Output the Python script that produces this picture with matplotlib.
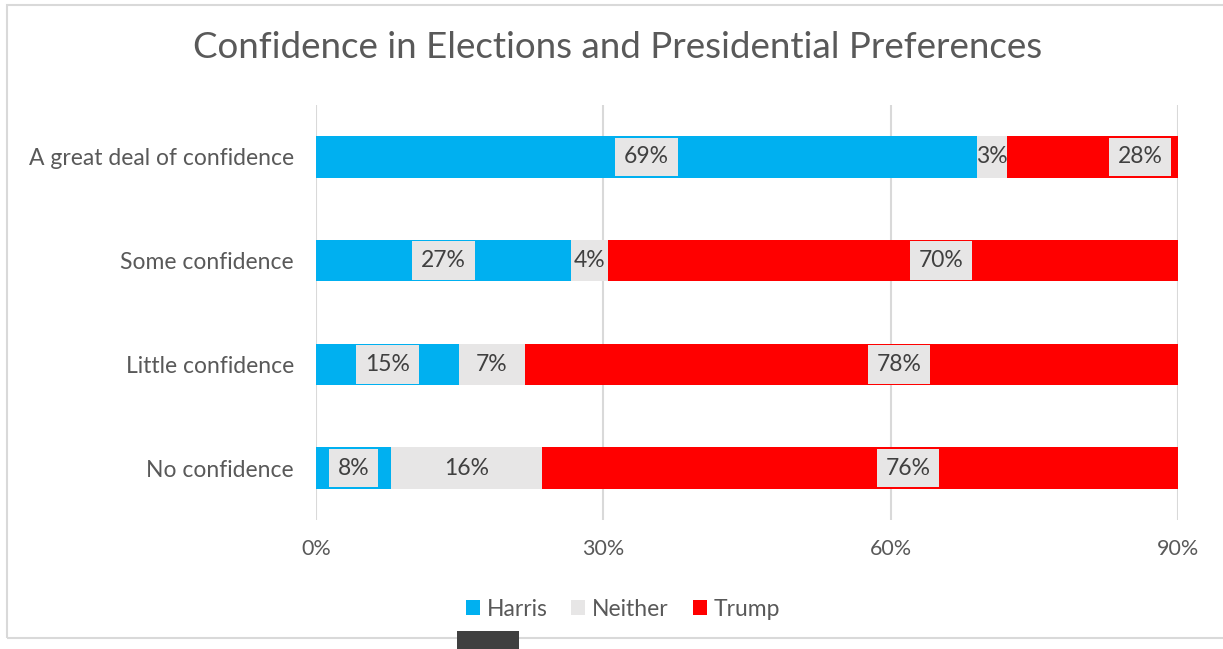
import matplotlib
matplotlib.use("Agg")
import matplotlib.pyplot as plt
import numpy as np
from matplotlib.patches import Rectangle

plt.rcParams['font.family'] = ['Lato', 'DejaVu Sans']

categories = ["A great deal of confidence", "Some confidence", "Little confidence", "No confidence"]
harris = [69.0, 26.6, 14.9, 7.8]
neither = [3.1, 3.9, 6.9, 15.8]
trump = [27.9, 69.5, 78.2, 76.4]
series = [("Harris", harris, "#00B0F0"), ("Neither", neither, "#E7E6E6"), ("Trump", trump, "#FF0000")]
ticks = [0, 30, 60, 90]

txt = "#595959"
fig = plt.figure(figsize=(12.23, 6.49), dpi=100)
ax = fig.add_axes([0.2584, 0.1988, 0.7048, 0.6394])

y = np.arange(len(categories))
left = np.zeros(len(categories))
for name, vals, col in series:
    vals = np.array(vals)
    ax.barh(y, vals, left=left, height=0.4, color=col, label=name, zorder=2)
    # the neither labels sit on a bar of the same grey, so no box there
    box = None if name == "Neither" else dict(boxstyle="square,pad=0.38", fc="#E7E6E6", ec="none")
    for yi, l, v in zip(y, left, vals):
        ax.text(l + v / 2, yi, "%d%%" % round(v), ha="center", va="center",
                fontsize=16.5, color="#404040", zorder=4, bbox=box)
    left += vals

ax.set_xlim(0, 90)
ax.set_ylim(3.5, -0.5)
ax.set_xticks(ticks)
ax.set_xticklabels(["%d%%" % t for t in ticks])
ax.set_yticks(y)
ax.set_yticklabels(categories)
ax.tick_params(length=0, labelcolor=txt)
ax.tick_params(axis="x", pad=14, labelsize=15.5)
ax.tick_params(axis="y", pad=16, labelsize=16.5)
ax.grid(axis="x", color="#D9D9D9", linewidth=1.5, zorder=0)
for s in ax.spines.values():
    s.set_visible(False)

fig.suptitle("Confidence in Elections and Presidential Preferences", x=0.505, y=0.952,
             fontsize=26.5, color=txt)

leg = ax.legend(loc="center", bbox_to_anchor=(0.356, -0.215), ncol=3, frameon=False,
                fontsize=16.5, handlelength=0.6, handleheight=0.6, handletextpad=0.3,
                columnspacing=1.05, labelcolor=txt)

# chart frame and the dark tab at the bottom
fig.patches.append(Rectangle((7 / 1223, 1 - 638 / 649), 1.2, 633 / 649, transform=fig.transFigure,
                             fill=False, ec="#D9D9D9", lw=1.5))
fig.patches.append(Rectangle((457 / 1223, 0), 62 / 1223, 18 / 649, transform=fig.transFigure,
                             fc="#404040", ec="none"))

plt.savefig("out.png", dpi=100)
